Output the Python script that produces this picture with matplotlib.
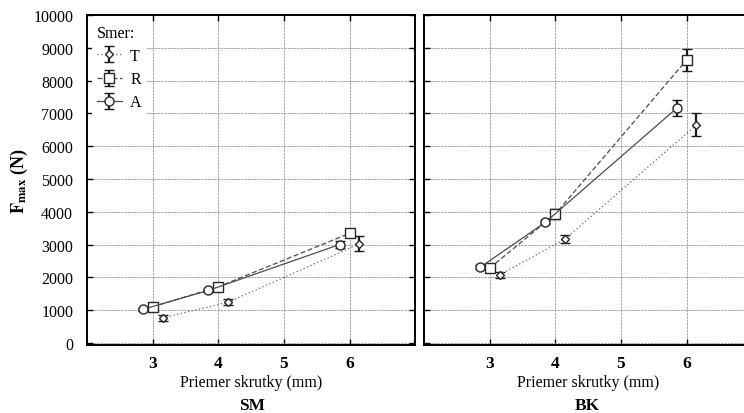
import matplotlib
matplotlib.use('Agg')
import matplotlib.pyplot as plt
import numpy as np

plt.rcParams['font.family'] = ['Liberation Serif', 'DejaVu Serif']
plt.rcParams['mathtext.fontset'] = 'stix'

# screw diameter (mm) and small horizontal offsets used per direction
diam = [3, 4, 6]
directions = ['T', 'R', 'A']
offset = {'T': 0.15, 'R': 0.0, 'A': -0.15}

# F_max (N) for SM panel
sm_vals = {'T': [760, 1240, 3020], 'R': [1100, 1710, 3340], 'A': [1020, 1600, 3000]}
sm_err = {'T': [90, 90, 230], 'R': [50, 60, 80], 'A': [40, 50, 110]}

# F_max (N) for BK panel
bk_vals = {'T': [2070, 3170, 6650], 'R': [2280, 3930, 8630], 'A': [2300, 3680, 7160]}
bk_err = {'T': [100, 130, 350], 'R': [80, 160, 340], 'A': [60, 60, 240]}

yticks = list(range(0, 10001, 1000))
xticks = [3, 4, 5, 6]

style = {
    'T': dict(marker='D', ms=3.8, ls=(0, (1, 2)), color='0.4'),
    'R': dict(marker='s', ms=6.5, ls=(0, (4, 2)), color='0.3'),
    'A': dict(marker='o', ms=6.5, ls='-', color='0.3'),
}

fig = plt.figure(figsize=(7.44, 4.14), dpi=100)
ax1 = fig.add_axes([0.117, 0.164, 0.441, 0.797])
ax2 = fig.add_axes([0.570, 0.164, 0.441, 0.797])


def draw(ax, vals, errs):
    handles = []
    for d in directions:
        st = style[d]
        xs = np.array(diam) + offset[d]
        h = ax.errorbar(xs, vals[d], yerr=errs[d], marker=st['marker'], ms=st['ms'],
                        mfc='white', mec='0.15', mew=1.0, ls=st['ls'], color=st['color'],
                        lw=0.9, ecolor='0.1', elinewidth=1.6, capsize=3.5, capthick=1.6,
                        label=d, zorder=3)
        handles.append(h)
    ax.set_xlim(2, 7)
    ax.set_ylim(-70, 10000)
    ax.set_xticks(xticks)
    ax.set_yticks(yticks)
    ax.grid(True, color='0.6', ls=(0, (3, 1)), lw=0.6)
    ax.tick_params(direction='in', top=True, right=True, length=4, width=1,
                   labelsize=11.5)
    ax.tick_params(axis='x', pad=7)
    ax.tick_params(axis='y', pad=10)
    for lab in ax.get_xticklabels():
        lab.set_fontweight('bold')
        lab.set_fontsize(12.5)
    for sp in ax.spines.values():
        sp.set_linewidth(1.4)
    ax.set_xlabel('Priemer skrutky (mm)', fontsize=11.5, labelpad=2)
    return handles


h = draw(ax1, sm_vals, sm_err)
draw(ax2, bk_vals, bk_err)
ax2.tick_params(labelleft=False)

ax1.set_ylabel(r'$\mathbf{F_{max}}$ (N)', fontsize=13, fontweight='bold', labelpad=2)

leg = ax1.legend(handles=h, labels=directions, title='Smer:', loc='upper left',
                 frameon=True, fancybox=False, edgecolor='none', facecolor='white',
                 framealpha=1, fontsize=11.5, title_fontsize=11.5, handlelength=1.6,
                 borderpad=0.3, labelspacing=0.45, handletextpad=0.5,
                 borderaxespad=0.3, alignment='left')
leg.set_zorder(5)

fig.text(0.339, 0.01, 'SM', ha='center', fontsize=12.5, fontweight='bold')
fig.text(0.790, 0.01, 'BK', ha='center', fontsize=12.5, fontweight='bold')

fig.savefig('out.png', dpi=100)
